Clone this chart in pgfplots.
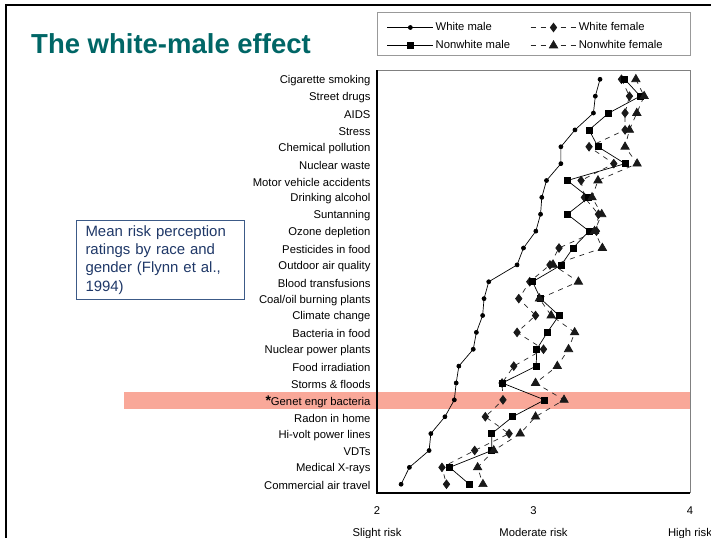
\documentclass[border=0pt]{standalone}
\usepackage{fontspec}
\setmainfont{Liberation Sans}
\usepackage{pgfplots}
\pgfplotsset{compat=1.18}
\usepackage{pgfplotstable}

\definecolor{titleteal}{RGB}{0,102,102}
\definecolor{bandcol}{RGB}{249,168,153}
\definecolor{boxblue}{RGB}{60,90,135}
\definecolor{boxtext}{RGB}{31,56,104}

\pgfplotstableread{
idx wm    nm    wf    nf
0   3.425 3.583 3.562 3.654
1   3.395 3.682 3.613 3.707
2   3.383 3.481 3.585 3.660
3   3.265 3.355 3.585 3.613
4   3.175 3.412 3.355 3.585
5   3.175 3.585 3.513 3.662
6   3.083 3.216 3.304 3.412
7   3.053 3.353 3.325 3.374
8   3.045 3.216 3.415 3.436
9   3.015 3.355 3.402 3.390
10  2.936 3.252 3.163 3.440
11  2.895 3.178 3.105 3.126
12  2.714 2.994 2.976 3.287
13  2.684 3.045 2.906 3.038
14  2.675 3.163 3.013 3.113
15  2.635 3.088 2.895 3.263
16  2.615 3.021 3.064 3.224
17  2.523 3.017 2.874 3.152
18  2.506 2.800 2.799 3.013
19  2.494 3.071 2.805 3.195
20  2.434 2.867 2.692 3.013
21  2.344 2.733 2.844 2.915
22  2.333 2.733 2.624 2.746
23  2.207 2.464 2.415 2.643
24  2.154 2.590 2.444 2.677
}\risk

\begin{document}
\begin{tikzpicture}
\path[use as bounding box] (0,0) rectangle (711bp,-538bp);
\fill[white] (0,0) rectangle (711bp,-538bp);
\draw[line width=2.2bp] (6bp,-538bp) -- (6bp,-5bp) -- (711bp,-5bp);
\fill[bandcol] (124bp,-392bp) rectangle (690bp,-409bp);
\node[anchor=base west, text=titleteal, font=\fontsize{27.6}{30}\selectfont\bfseries, inner sep=0] at (31bp,-53bp) {The white-male effect};
\node[draw=boxblue, line width=1bp, text=boxtext, anchor=north west, align=left, text width=150bp, inner xsep=9bp, inner ysep=5bp, font=\fontsize{15}{18.3}\selectfont] at (76bp,-220bp) {Mean risk perception\\ratings by race and\\gender (Flynn et al.,\\1994)};
\draw[gray!80, line width=0.8bp] (377bp,-12bp) rectangle (690bp,-55bp);

\begin{axis}[
  at={(377bp,-493bp)}, anchor=south west,
  width=313bp, height=423bp, scale only axis,
  xmin=2, xmax=4, ymin=-0.55, ymax=24.52, y dir=reverse,
  clip=false,
  axis line style={draw=none},
  tick style={draw=none},
  ytick={0,...,24},
  yticklabels={Cigarette smoking, Street drugs, AIDS, Stress, Chemical pollution, Nuclear waste, Motor vehicle accidents, Drinking alcohol, Suntanning, Ozone depletion, Pesticides in food, Outdoor air quality, Blood transfusions, Coal/oil burning plants, Climate change, Bacteria in food, Nuclear power plants, Food irradiation, Storms \& floods, {{\fontsize{14}{13}\selectfont\bfseries *}Genet engr bacteria}, Radon in home, Hi-volt power lines, VDTs, Medical X-rays, Commercial air travel},
  yticklabel style={font=\fontsize{11.3}{13}\selectfont, anchor=east, xshift=-3bp, yshift=-1.5bp},
  xtick={2,3,4},
  xticklabels={{2\\[9bp]Slight risk},{3\\[9bp]Moderate risk},{4\\[9bp]High risk}},
  xticklabel style={font=\fontsize{11.3}{13}\selectfont, align=center, anchor=north, yshift=-10bp},
  legend columns=2,
  legend cell align=left,
  legend image code/.code={\draw[mark repeat=2,mark phase=2,#1] plot coordinates {(0bp,0bp) (23bp,0bp) (46bp,0bp)};},
  legend style={draw=none, fill=none, inner sep=0bp, outer sep=0bp,
    at={(rel axis cs:0,1)}, anchor=south west, xshift=10bp, yshift=17bp,
    font=\fontsize{11.3}{13}\selectfont,
    nodes={inner xsep=2bp, inner ysep=2bp, text height=8.5bp, text depth=2.5bp},
    row sep=3bp,
    /tikz/every even column/.append style={column sep=18bp}},
]
\addplot[black, line width=0.7bp, mark=*, mark size=2bp] table[x=wm,y=idx]{\risk};
\addlegendentry{White male}
\addplot[black!85, line width=0.7bp, dash pattern=on 5bp off 5bp, mark=diamond*, mark size=4.3bp, mark options={solid, fill=black!90, draw=black!90}] table[x=wf,y=idx]{\risk};
\addlegendentry{White female}
\addplot[black, line width=0.7bp, mark=square*, mark size=3bp] table[x=nm,y=idx]{\risk};
\addlegendentry{Nonwhite male}
\addplot[black!85, line width=0.7bp, dash pattern=on 5bp off 5bp, mark=triangle*, mark size=4.8bp, mark options={solid, fill=black!90, draw=black!90}] table[x=nf,y=idx]{\risk};
\addlegendentry{Nonwhite female}
\draw[gray, line width=0.8bp] (rel axis cs:0,1) -- (rel axis cs:1,1) -- (rel axis cs:1,0);
\draw[black, line width=1.2bp] (rel axis cs:0,1) -- (rel axis cs:0,0) -- (rel axis cs:1,0);
\end{axis}
\end{tikzpicture}
\end{document}
